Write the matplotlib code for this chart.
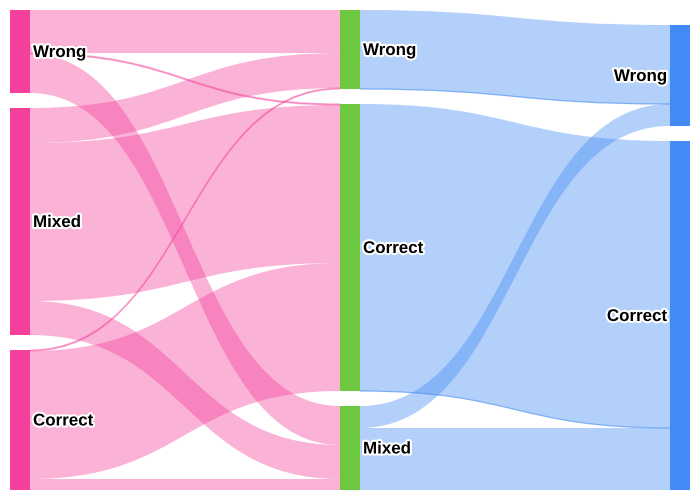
#!/usr/bin/env python3
# Sankey: answer status across three rounds

import matplotlib
matplotlib.use('Agg')
import matplotlib.pyplot as plt
from matplotlib.path import Path
from matplotlib.patches import PathPatch, Rectangle
import matplotlib.patheffects as pe

# node labels per column (top to bottom)
col1 = ['Wrong', 'Mixed', 'Correct']
col2 = ['Wrong', 'Correct', 'Mixed']
col3 = ['Wrong', 'Correct']

# column 1 -> column 2
src1 = ['Wrong', 'Wrong', 'Wrong', 'Mixed', 'Mixed', 'Mixed', 'Correct', 'Correct', 'Correct']
tgt1 = ['Wrong', 'Correct', 'Mixed', 'Wrong', 'Correct', 'Mixed', 'Wrong', 'Correct', 'Mixed']
val1 = [43, 1, 39, 35, 158, 34, 1, 128, 11]

# column 2 -> column 3
src2 = ['Wrong', 'Correct', 'Mixed', 'Mixed']
tgt2 = ['Wrong', 'Correct', 'Wrong', 'Correct']
val2 = [79, 287, 22, 62]

node_colors = ['#F5409B', '#6CC93F', '#428BF4']
link_colors = ['#F5409B', '#428BF4']

cols = [col1, col2, col3]
stages = [(src1, tgt1, val1), (src2, tgt2, val2)]

fig = plt.figure(figsize=(7, 5), dpi=100)
ax = fig.add_axes([0, 0, 1, 1])
ax.set_xlim(0, 700)
ax.set_ylim(500, 0)
ax.axis('off')

node_x = [10, 340, 670]
node_w = 20
top, bottom, pad = 10, 490, 15

# node sizes = max(in, out)
sizes = []
for c, names in enumerate(cols):
    d = {}
    for n in names:
        out_v = sum(v for s, t, v in zip(*stages[c]) if s == n) if c < len(stages) else 0
        in_v = sum(v for s, t, v in zip(*stages[c - 1]) if t == n) if c > 0 else 0
        d[n] = max(in_v, out_v)
    sizes.append(d)

scale = min((bottom - top - pad * (len(n) - 1)) / sum(sizes[c].values())
            for c, n in enumerate(cols))

# node vertical positions, columns aligned to the bottom
ypos = []
for c, names in enumerate(cols):
    h = sum(sizes[c].values()) * scale + pad * (len(names) - 1)
    y = bottom - h
    d = {}
    for n in names:
        d[n] = (y, y + sizes[c][n] * scale)
        y += sizes[c][n] * scale + pad
    ypos.append(d)

# links
for c, (src, tgt, val) in enumerate(stages):
    x0 = node_x[c] + node_w
    x1 = node_x[c + 1]
    xm = (x0 + x1) / 2
    out_off = {n: ypos[c][n][0] for n in cols[c]}
    in_off = {n: ypos[c + 1][n][0] for n in cols[c + 1]}
    links = list(zip(src, tgt, val))
    # source side ordering by target position, target side by source position
    src_y = {}
    for s, t, v in sorted(links, key=lambda l: (cols[c].index(l[0]), ypos[c + 1][l[1]][0])):
        src_y[(s, t)] = out_off[s]
        out_off[s] += v * scale
    tgt_y = {}
    for s, t, v in sorted(links, key=lambda l: (cols[c + 1].index(l[1]), ypos[c][l[0]][0])):
        tgt_y[(s, t)] = in_off[t]
        in_off[t] += v * scale
    for s, t, v in links:
        w = v * scale
        ys, yt = src_y[(s, t)], tgt_y[(s, t)]
        verts = [(x0, ys), (xm, ys), (xm, yt), (x1, yt),
                 (x1, yt + w), (xm, yt + w), (xm, ys + w), (x0, ys + w), (x0, ys)]
        codes = [Path.MOVETO, Path.CURVE4, Path.CURVE4, Path.CURVE4,
                 Path.LINETO, Path.CURVE4, Path.CURVE4, Path.CURVE4, Path.CLOSEPOLY]
        col = link_colors[c]
        if w < 2:
            ax.add_patch(PathPatch(Path(verts, codes), facecolor=col, alpha=0.4,
                                   edgecolor=col, lw=0.9, zorder=1))
        else:
            ax.add_patch(PathPatch(Path(verts, codes), facecolor=col, alpha=0.4,
                                   lw=0, zorder=1))
        if c == 1 and s == t:
            edge = Path([(x0, ys + w), (xm, ys + w), (xm, yt + w), (x1, yt + w)],
                        [Path.MOVETO, Path.CURVE4, Path.CURVE4, Path.CURVE4])
            ax.add_patch(PathPatch(edge, facecolor='none', edgecolor=col,
                                   alpha=0.6, lw=0.9, zorder=1))

# nodes and labels
for c, names in enumerate(cols):
    for n in names:
        y0, y1 = ypos[c][n]
        ax.add_patch(Rectangle((node_x[c], y0), node_w, y1 - y0,
                               facecolor=node_colors[c], lw=0, zorder=2))
        if c < len(cols) - 1:
            tx, ha = node_x[c] + node_w + 3, 'left'
        else:
            tx, ha = node_x[c] - 3, 'right'
        ax.text(tx, (y0 + y1) / 2 + 1, n, ha=ha, va='center', fontsize=12.2,
                fontweight='bold', family='Liberation Sans', color='black', zorder=3,
                path_effects=[pe.withStroke(linewidth=3, foreground='white')])

fig.savefig('out.png', dpi=100)
